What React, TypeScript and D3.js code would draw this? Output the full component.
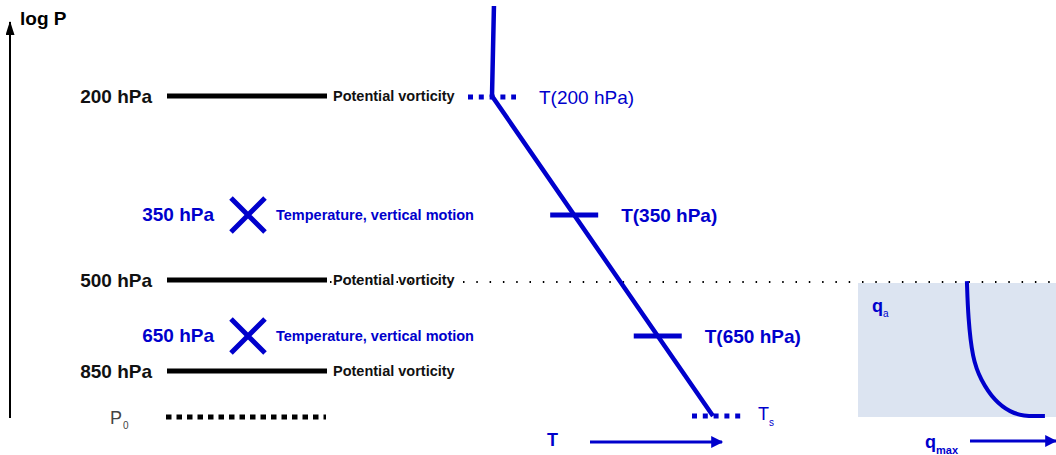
import React from "react";
import * as d3 from "d3";

// ---- data ----
const pressureLevels = [100, 200, 350, 500, 650, 850, 1000];
const levelPixels = [6, 96, 215, 280, 336, 371, 416]; // schematic log-P axis (piecewise)
const pvLevels = [200, 500, 850];
const pvLabels = ["200 hPa", "500 hPa", "850 hPa"];
const tvLevels = [350, 650];
const tvLabels = ["350 hPa", "650 hPa"];
const profilePressure = [100, 200, 1000];
const profileTemp = [220.6, 220, 288];
const tempTicks = [200, 350, 650, 1000];
const tempTickLabels = ["T(200 hPa)", "T(350 hPa)", "T(650 hPa)", "T"];
const qPressure = [503, 600, 780, 880, 950, 988, 1000, 1000, 1000];
const qValues = [0.55, 0.556, 0.578, 0.62, 0.69, 0.77, 0.84, 0.9, 0.944];

const W = 1056;
const H = 455;
const BLUE = "#0000cc";
const FONT = "'Liberation Sans', Arial, sans-serif";

export default function App() {
  const y = d3.scaleLinear().domain(pressureLevels).range(levelPixels);
  const x = d3.scaleLinear().domain([220, 288]).range([492, 713]);
  const xq = d3.scaleLinear().domain([0, 1]).range([858, 1056]);

  const profile = d3.line<number>()
    .x((_, i) => x(profileTemp[i]))
    .y((p) => y(p));
  const qLine = d3.line<number>()
    .x((_, i) => xq(qValues[i]))
    .y((p) => y(p))
    .curve(d3.curveBasis);

  const tAt = (p: number) => x.invert(
    x(220) + ((y(p) - y(200)) / (y(1000) - y(200))) * (x(288) - x(220))
  );

  return (
    <svg width={W} height={H} style={{ position: "absolute", left: 0, top: 0 }} fontFamily={FONT}>
      <defs>
        <marker id="ab" viewBox="0 0 14 10" refX="13" refY="5" markerWidth="14" markerHeight="9"
          markerUnits="userSpaceOnUse" preserveAspectRatio="none" orient="auto">
          <path d="M0,0 L14,5 L0,10 z" fill="#000" />
        </marker>
        <marker id="abl" viewBox="0 0 10 10" refX="9" refY="5" markerWidth="6" markerHeight="4" orient="auto">
          <path d="M0,0 L10,5 L0,10 z" fill={BLUE} />
        </marker>
      </defs>
      {/* axis */}
      <line x1={10} y1={418} x2={10} y2={22} stroke="#000" strokeWidth={2} markerEnd="url(#ab)" />
      <text x={20} y={25} fontSize={19} fontWeight="bold">log P</text>

      {/* moisture box */}
      <rect x={xq(0)} y={y(500) + 3} width={xq(1) - xq(0)} height={y(1000) - y(500) - 2} fill="#dce4f1" />

      {/* dotted 500 hPa line */}
      <line x1={330} x2={W} y1={y(500) + 2} y2={y(500) + 2} stroke="#000" strokeWidth={2}
        strokeDasharray="1.5 11.8" />

      {/* PV levels */}
      {pvLevels.map((p, i) => (
        <g key={p}>
          <text x={152} y={y(p) + 7} textAnchor="end" fontSize={19} fontWeight="bold" fill="#111">{pvLabels[i]}</text>
          <line x1={167} x2={327} y1={y(p)} y2={y(p)} stroke="#000" strokeWidth={5} />
          <text x={333} y={y(p) + 5} fontSize={14.5} fontWeight="bold" fill="#111">Potential vorticity</text>
        </g>
      ))}

      {/* T/vertical motion levels */}
      {tvLevels.map((p, i) => (
        <g key={p}>
          <text x={214} y={y(p) + 6} textAnchor="end" fontSize={19} fontWeight="bold" fill={BLUE}>{tvLabels[i]}</text>
          <path d={`M${231},${y(p) - 17}L${265},${y(p) + 17}M${265},${y(p) - 17}L${231},${y(p) + 17}`}
            stroke={BLUE} strokeWidth={5} />
          <text x={276} y={y(p) + 5} fontSize={14.5} fontWeight="bold" fill={BLUE}>Temperature, vertical motion</text>
        </g>
      ))}

      {/* P0 */}
      <text x={110} y={424} fontSize={18} fill="#444">P</text>
      <text x={123} y={429} fontSize={10} fill="#444">0</text>
      <line x1={166} x2={326} y1={y(1000) + 1} y2={y(1000) + 1} stroke="#000" strokeWidth={5} strokeDasharray="5.5 5" />

      {/* temperature profile */}
      <path d={profile(profilePressure) ?? ""} fill="none" stroke={BLUE} strokeWidth={4.5} />
      {/* T(200) dotted */}
      <line x1={x(tAt(200)) - 24} x2={x(tAt(200)) + 24} y1={y(200) + 1} y2={y(200) + 1} stroke={BLUE} strokeWidth={5} strokeDasharray="5 5.8" />
      <text x={539} y={y(200) + 8} fontSize={19} fill={BLUE}>{tempTickLabels[0]}</text>
      {/* T(350), T(650) ticks */}
      {[1, 2].map((k) => {
        const p = tempTicks[k];
        const cx = x(tAt(p));
        return (
          <g key={p}>
            <line x1={cx - 24} x2={cx + 24} y1={y(p)} y2={y(p)} stroke={BLUE} strokeWidth={5} />
            <text x={cx + 47} y={y(p) + 7} fontSize={19} fontWeight="bold" fill={BLUE}>{tempTickLabels[k]}</text>
          </g>
        );
      })}
      {/* Ts dotted */}
      <line x1={692} x2={741} y1={y(1000)} y2={y(1000)} stroke={BLUE} strokeWidth={5} strokeDasharray="5 5.8" />
      <text x={758} y={420} fontSize={18} fill={BLUE}>T</text>
      <text x={769} y={426} fontSize={10} fill={BLUE}>s</text>

      {/* T axis arrow */}
      <text x={547} y={446} fontSize={18} fontWeight="bold" fill={BLUE}>{tempTickLabels[3]}</text>
      <line x1={590} x2={722} y1={442} y2={442} stroke={BLUE} strokeWidth={3} markerEnd="url(#abl)" />

      {/* q curve */}
      <path d={qLine(qPressure) ?? ""} fill="none" stroke={BLUE} strokeWidth={4} />
      <text x={872} y={312} fontSize={18} fontWeight="bold" fill={BLUE}>q</text>
      <text x={883} y={317} fontSize={10} fill={BLUE}>a</text>
      <text x={925} y={448} fontSize={18} fontWeight="bold" fill={BLUE}>q</text>
      <text x={936} y={454} fontSize={11} fontWeight="bold" fill={BLUE}>max</text>
      <line x1={970} x2={1056} y1={441} y2={441} stroke={BLUE} strokeWidth={3} markerEnd="url(#abl)" />
    </svg>
  );
}
